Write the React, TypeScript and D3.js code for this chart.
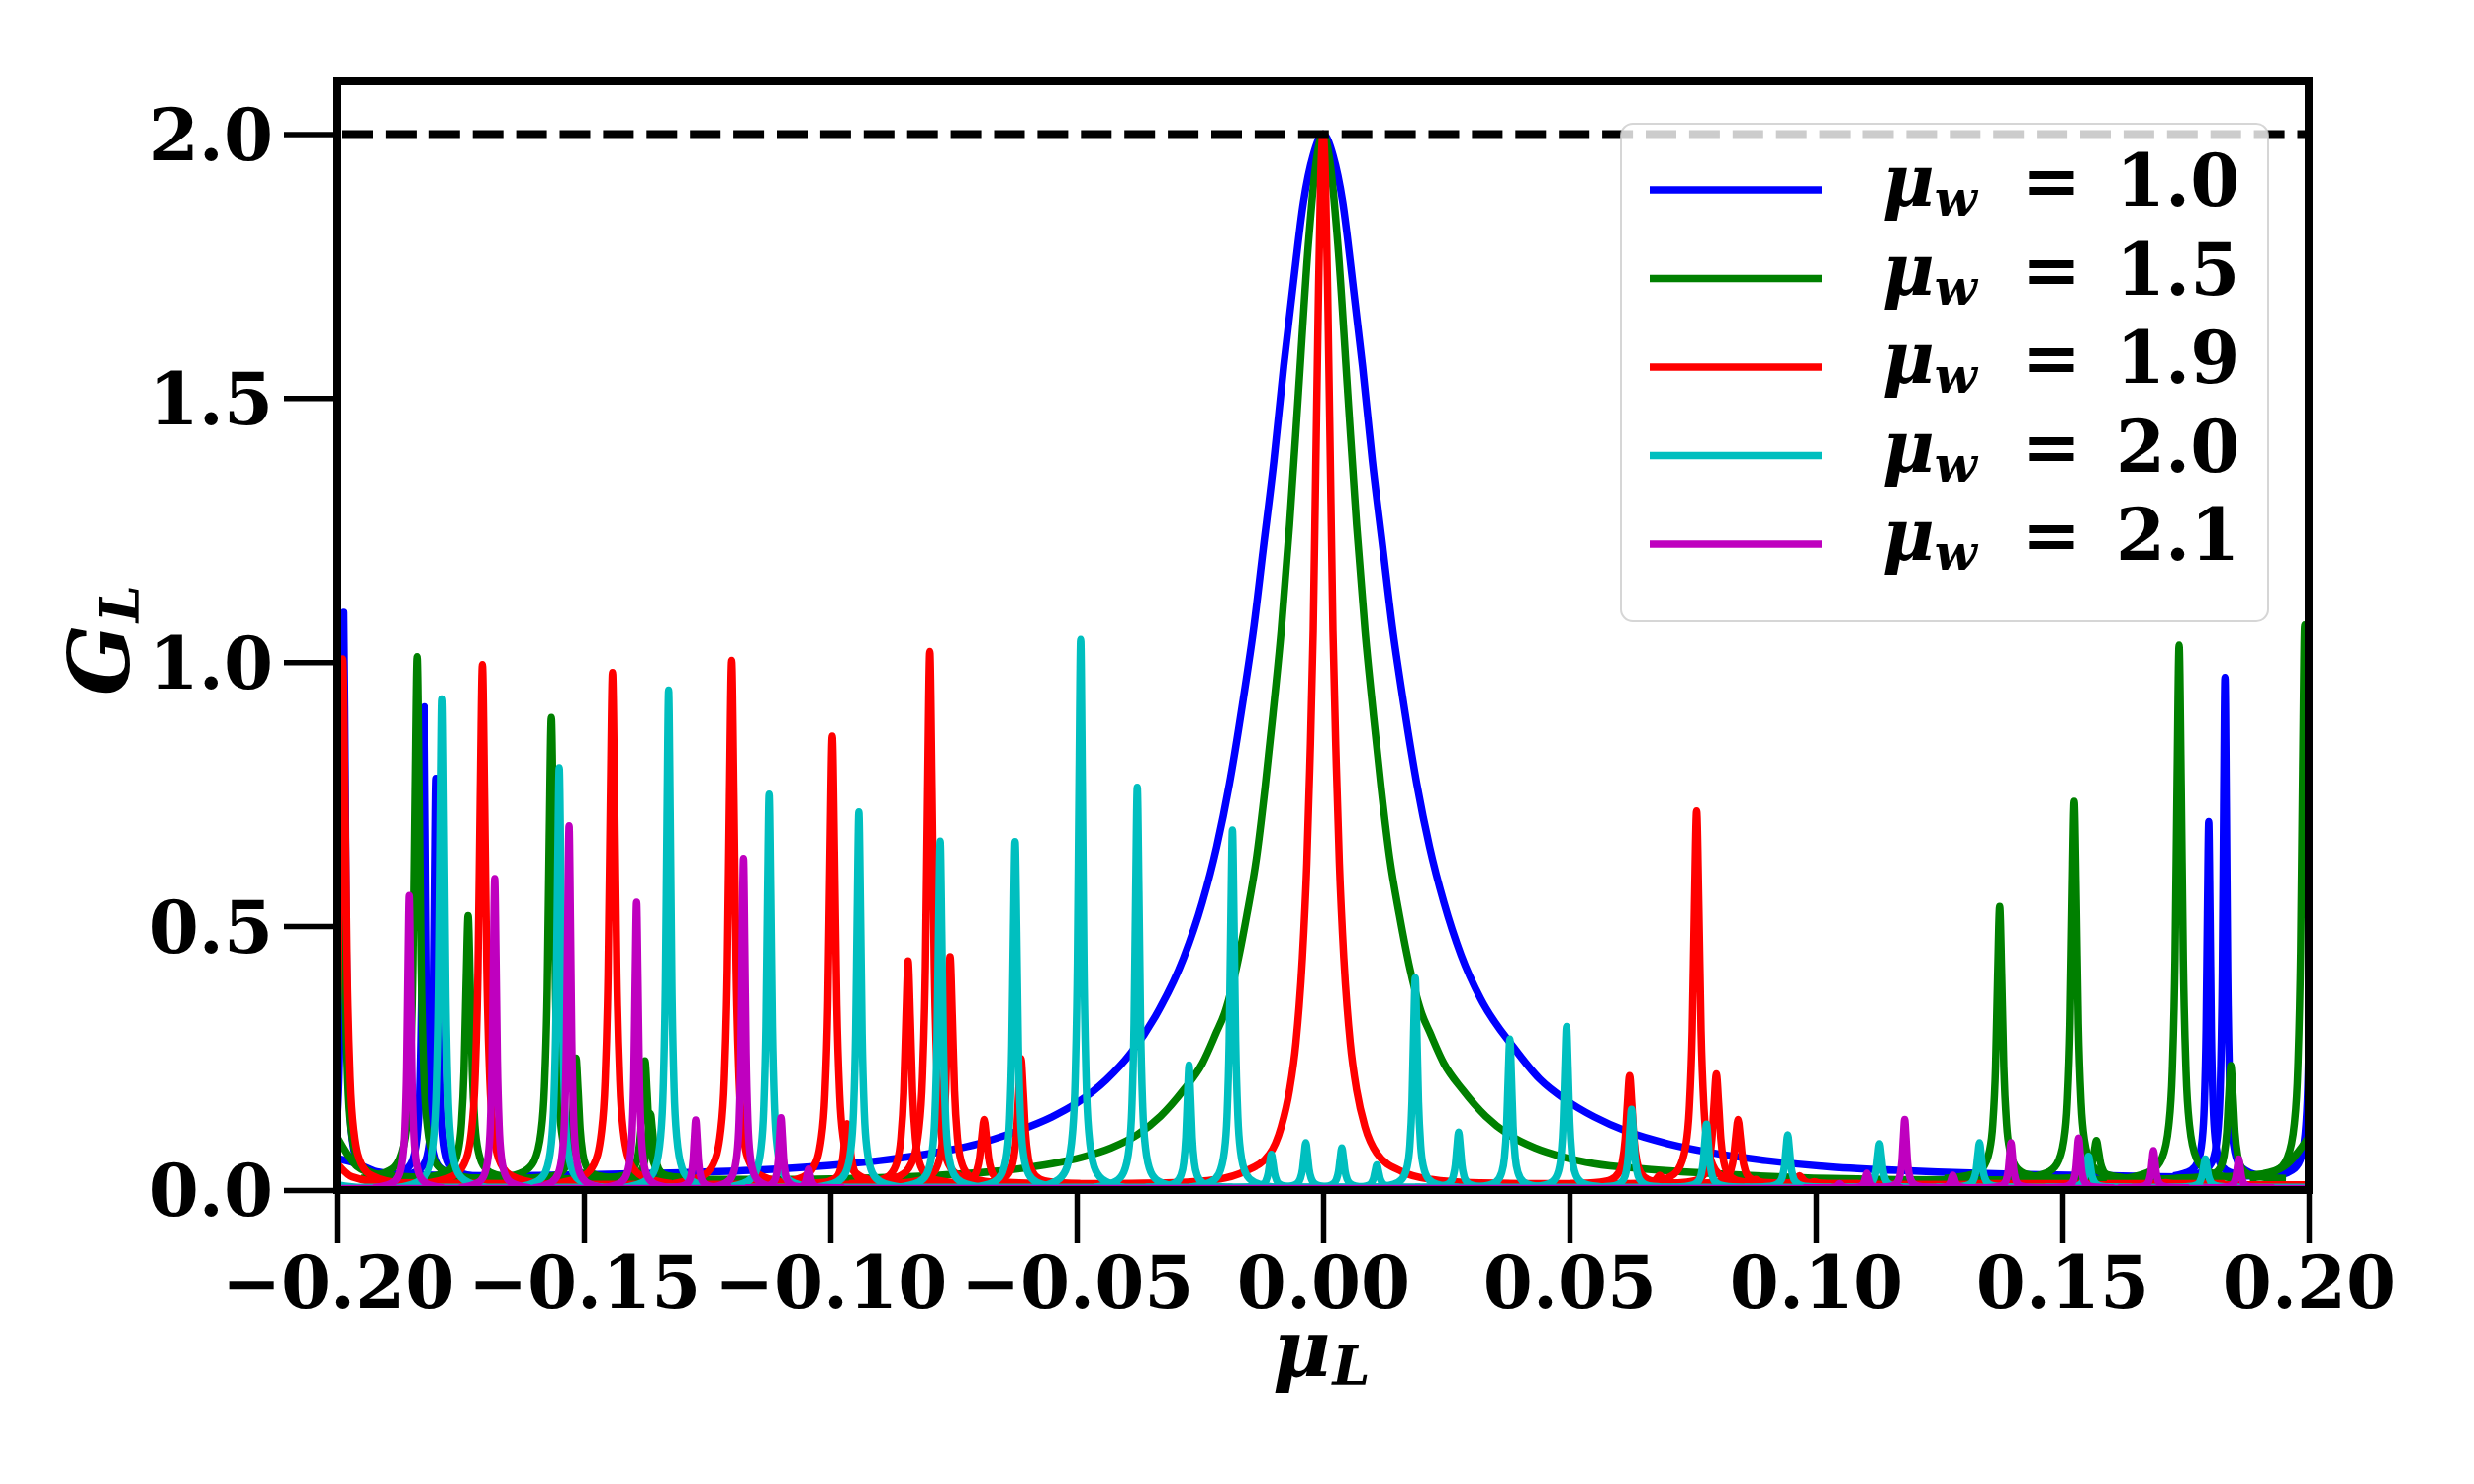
import { useEffect, useRef } from 'react';
import * as d3 from 'd3';

type Pt = [number, number];

// axis ticks
const muTicks = [-0.2, -0.15, -0.1, -0.05, 0, 0.05, 0.1, 0.15, 0.2];
const muTickLabels = ['−0.20', '−0.15', '−0.10', '−0.05', '0.00', '0.05', '0.10', '0.15', '0.20'];
const gTicks = [0, 0.5, 1.0, 1.5, 2.0];
const gTickLabels = ['0.0', '0.5', '1.0', '1.5', '2.0'];

// legend / series
const muWLabels = ['1.0', '1.5', '1.9', '2.0', '2.1'];
const seriesColors = ['#0000ff', '#008000', '#ff0000', '#00bfbf', '#bf00bf'];
const spikeWidths = [0.00045, 0.0007, 0.00075, 0.00055, 0.00045];
const floorLevels = [0.027, 0.022, 0.012, 0.005, 0.004];

// smooth background of each curve: [mu_L, G_L]
const blueBase: Pt[] = [
  [-0.2, 0.06], [-0.196, 0.05], [-0.192, 0.035], [-0.185, 0.029], [-0.17, 0.027], [-0.15, 0.029],
  [-0.13, 0.033], [-0.115, 0.038], [-0.1, 0.047], [-0.09, 0.056], [-0.082, 0.066], [-0.07, 0.088],
  [-0.062, 0.112], [-0.055, 0.139], [-0.05, 0.165], [-0.044, 0.209], [-0.039, 0.26], [-0.034, 0.33],
  [-0.0283, 0.44], [-0.0245, 0.545], [-0.0216, 0.65], [-0.019, 0.77], [-0.0162, 0.93], [-0.014, 1.07],
  [-0.0122, 1.21], [-0.01, 1.38], [-0.008, 1.56], [-0.006, 1.72], [-0.004, 1.87], [-0.002, 1.96],
  [0, 2.0], [0.002, 1.96], [0.004, 1.87], [0.006, 1.72], [0.008, 1.56], [0.01, 1.38], [0.0122, 1.21],
  [0.014, 1.07], [0.0162, 0.93], [0.019, 0.77], [0.0216, 0.65], [0.0245, 0.545], [0.028, 0.445],
  [0.032, 0.362], [0.0387, 0.27], [0.044, 0.21], [0.0494, 0.17], [0.055, 0.139], [0.062, 0.11],
  [0.07, 0.088], [0.0788, 0.071], [0.09, 0.056], [0.1028, 0.044], [0.12, 0.036], [0.14, 0.03],
  [0.16, 0.027], [0.175, 0.025], [0.19, 0.027], [0.196, 0.04], [0.2, 0.1],
];
const greenBase: Pt[] = [
  [-0.2, 0.1], [-0.196, 0.045], [-0.192, 0.03], [-0.185, 0.025], [-0.17, 0.023], [-0.15, 0.021],
  [-0.13, 0.02], [-0.11, 0.02], [-0.1, 0.021], [-0.08, 0.027], [-0.062, 0.04], [-0.055, 0.05],
  [-0.049, 0.062], [-0.043, 0.08], [-0.0377, 0.105], [-0.033, 0.14], [-0.0283, 0.19], [-0.0245, 0.24],
  [-0.0216, 0.3], [-0.02, 0.335], [-0.0176, 0.42], [-0.0155, 0.52], [-0.0135, 0.63], [-0.0118, 0.76],
  [-0.0102, 0.9], [-0.0085, 1.06], [-0.0068, 1.26], [-0.005, 1.51], [-0.003, 1.79], [-0.0015, 1.94],
  [0, 2.0], [0.0015, 1.94], [0.003, 1.79], [0.005, 1.51], [0.0068, 1.26], [0.0085, 1.06], [0.0102, 0.9],
  [0.0118, 0.76], [0.0135, 0.63], [0.0155, 0.52], [0.0176, 0.42], [0.02, 0.335], [0.0216, 0.3],
  [0.0245, 0.24], [0.0283, 0.19], [0.033, 0.14], [0.0377, 0.105], [0.043, 0.08], [0.049, 0.062],
  [0.055, 0.05], [0.0654, 0.04], [0.08, 0.031], [0.103, 0.022], [0.13, 0.019], [0.16, 0.02],
  [0.18, 0.024], [0.19, 0.03], [0.195, 0.045], [0.2, 0.1],
];
const redBase: Pt[] = [
  [-0.2, 0.05], [-0.197, 0.025], [-0.19, 0.014], [-0.15, 0.011], [-0.1, 0.011], [-0.05, 0.012],
  [-0.03, 0.014], [-0.0216, 0.02], [-0.016, 0.035], [-0.0109, 0.068], [-0.0085, 0.12], [-0.0068, 0.19],
  [-0.0055, 0.28], [-0.0042, 0.44], [-0.0033, 0.62], [-0.0027, 0.8], [-0.002, 1.06], [-0.0015, 1.36],
  [-0.001, 1.66], [-0.0005, 1.91], [0, 2.0], [0.0005, 1.91], [0.001, 1.66], [0.0015, 1.36],
  [0.002, 1.06], [0.0027, 0.8], [0.0033, 0.62], [0.0042, 0.44], [0.0055, 0.28], [0.0068, 0.19],
  [0.0085, 0.12], [0.0109, 0.07], [0.016, 0.035], [0.022, 0.02], [0.03, 0.014], [0.05, 0.012],
  [0.1, 0.011], [0.15, 0.01], [0.2, 0.01],
];
const cyanBase: Pt[] = [[-0.2, 0.01], [-0.195, 0.005], [0.2, 0.005]];
const magentaBase: Pt[] = [[-0.2, 0.003], [0.2, 0.003]];

// narrow resonances: [centre mu_L, peak G_L]
const blueSpikes: Pt[] = [
  [-0.1987, 1.094], [-0.1824, 0.915], [-0.1799, 0.78], [0.1797, 0.698], [0.183, 0.971], [0.2008, 1.0],
];
const greenSpikes: Pt[] = [
  [-0.1993, 0.95], [-0.1839, 1.01], [-0.1735, 0.52], [-0.1566, 0.895], [-0.1516, 0.25], [-0.1376, 0.245],
  [-0.1365, 0.145], [0.1373, 0.537], [0.1524, 0.736], [0.1569, 0.094], [0.1737, 1.032], [0.1842, 0.236],
  [0.1992, 1.07],
];
const redSpikes: Pt[] = [
  [-0.1989, 1.006], [-0.1706, 0.995], [-0.1442, 0.98], [-0.12, 1.003], [-0.0996, 0.86], [-0.0966, 0.126],
  [-0.0842, 0.434], [-0.0798, 1.02], [-0.0757, 0.442], [-0.0688, 0.134], [-0.0613, 0.249], [0.0622, 0.217],
  [0.0683, 0.028], [0.0758, 0.718], [0.0798, 0.22], [0.0842, 0.134], [0.0878, 0.02], [0.0967, 0.027],
  [0.0997, 0.016], [0.1444, 0.012], [0.171, 0.014],
];
const cyanSpikes: Pt[] = [
  [-0.1787, 0.93], [-0.155, 0.8], [-0.1328, 0.947], [-0.1124, 0.75], [-0.0942, 0.716], [-0.0777, 0.661],
  [-0.0625, 0.66], [-0.0492, 1.043], [-0.0377, 0.763], [-0.0272, 0.237], [-0.0184, 0.682], [-0.0105, 0.068],
  [-0.0035, 0.09], [0.0038, 0.08], [0.0109, 0.048], [0.0187, 0.402], [0.0275, 0.11], [0.0379, 0.286],
  [0.0494, 0.31], [0.0626, 0.153], [0.0778, 0.125], [0.0943, 0.105], [0.1129, 0.088], [0.1332, 0.09],
  [0.1553, 0.064], [0.179, 0.059],
];
const magentaSpikes: Pt[] = [
  [-0.1855, 0.558], [-0.1681, 0.59], [-0.153, 0.69], [-0.1393, 0.545], [-0.1273, 0.133], [-0.1176, 0.628],
  [-0.11, 0.137], [-0.1044, 0.04], [0.1047, 0.012], [0.1104, 0.032], [0.118, 0.134], [0.1278, 0.028],
  [0.1396, 0.09], [0.1533, 0.099], [0.1685, 0.075], [0.1858, 0.059],
];

// shape of one resonance: offset in widths, fraction of peak above floor
const spikeProfile: Pt[] = [
  [-16, 0], [-8, 0.015], [-5, 0.038], [-3, 0.1], [-2, 0.2], [-1.2, 0.41], [-0.6, 0.74], [0, 1],
  [0.6, 0.74], [1.2, 0.41], [2, 0.2], [3, 0.1], [5, 0.038], [8, 0.015], [16, 0],
];

const bases = [blueBase, greenBase, redBase, cyanBase, magentaBase];
const spikes = [blueSpikes, greenSpikes, redSpikes, cyanSpikes, magentaSpikes];

const FONT = 'DejaVu Serif';
const PL = 341, PR = 2333, PT = 82, PB = 1203;

export default function App() {
  const xAxisRef = useRef<SVGGElement>(null);
  const yAxisRef = useRef<SVGGElement>(null);

  const x = d3.scaleLinear().domain([-0.2, 0.2]).range([PL, PR]);
  const y = d3.scaleLinear().domain([0, 2.1]).range([PB, PT]);

  const line = d3
    .line<Pt>()
    .x((d) => x(d[0]))
    .y((d) => y(d[1]))
    .curve(d3.curveMonotoneX);

  useEffect(() => {
    document.body.style.margin = '0';
    if (!xAxisRef.current || !yAxisRef.current) return;

    const gx = d3.select(xAxisRef.current);
    gx.selectAll('*').remove();
    gx.call(
      d3
        .axisBottom(x)
        .tickValues(muTicks)
        .tickSize(53)
        .tickPadding(15)
        .tickFormat((_, i) => muTickLabels[i])
    );

    const gy = d3.select(yAxisRef.current);
    gy.selectAll('*').remove();
    gy.call(
      d3
        .axisLeft(y)
        .tickValues(gTicks)
        .tickSize(54)
        .tickPadding(11)
        .tickFormat((_, i) => gTickLabels[i])
    );
    gy.selectAll('text').attr('dy', '0.36em');

    [gx, gy].forEach((g) => {
      g.select('.domain').remove();
      g.selectAll('line').attr('stroke', '#000').attr('stroke-width', 5.5);
      g.selectAll('text')
        .attr('fill', '#000')
        .attr('font-family', FONT)
        .attr('font-weight', 'bold')
        .attr('font-size', 72);
    });
  }, []);

  const legendY = (i: number) => 192 + i * 89.5;

  return (
    <svg width={2500} height={1500} style={{ display: 'block', background: '#fff' }}>
      <defs>
        <clipPath id="plot-area">
          <rect x={PL} y={PT} width={PR - PL} height={PB - PT} />
        </clipPath>
      </defs>

      <g clipPath="url(#plot-area)" fill="none" strokeWidth={7.5} strokeLinejoin="round">
        {bases.map((base, si) => (
          <g key={si} stroke={seriesColors[si]}>
            <path d={line(base) ?? ''} />
            {spikes[si].map(([c, h], k) => {
              const w = spikeWidths[si];
              const f = floorLevels[si];
              const pts: Pt[] = spikeProfile.map(([o, r]) => [c + o * w, f + r * (h - f)]);
              return <path key={k} d={line(pts) ?? ''} />;
            })}
          </g>
        ))}
        <line
          x1={PL}
          x2={PR}
          y1={y(2.0)}
          y2={y(2.0)}
          stroke="#000"
          strokeWidth={8}
          strokeDasharray="31 12.9"
          strokeDashoffset={-5}
        />
      </g>

      <g ref={xAxisRef} transform={`translate(0,${PB})`} />
      <g ref={yAxisRef} transform={`translate(${PL},0)`} />

      <rect x={PL} y={PT} width={PR - PL} height={PB - PT} fill="none" stroke="#000" strokeWidth={8} />

      {/* axis labels */}
      <text x={1286} y={1391} fontFamily={FONT} fontWeight="bold" fontStyle="italic" fontSize={80}>
        μ<tspan fontSize={54} dy={9} dx={2}>L</tspan>
      </text>
      <text
        transform={`translate(130,703) rotate(-90)`}
        fontFamily={FONT}
        fontWeight="bold"
        fontStyle="italic"
        fontSize={84}
      >
        G<tspan fontSize={54} dy={10} dx={2}>L</tspan>
      </text>

      {/* legend */}
      <g>
        <rect
          x={1638}
          y={125}
          width={654}
          height={503}
          rx={12}
          fill="#fff"
          fillOpacity={0.8}
          stroke="#cccccc"
          strokeOpacity={0.8}
          strokeWidth={2}
        />
        {muWLabels.map((lab, i) => (
          <g key={lab}>
            <line x1={1667} x2={1841} y1={legendY(i)} y2={legendY(i)} stroke={seriesColors[i]} strokeWidth={7.5} />
            <text
              x={1902}
              y={legendY(i) + 16}
              fontFamily={FONT}
              fontWeight="bold"
              fontStyle="italic"
              fontSize={72}
            >
              μ<tspan fontSize={50} dy={10}>w</tspan>
            </text>
            <text
              x={2073}
              y={legendY(i) + 16}
              textAnchor="middle"
              fontFamily={FONT}
              fontWeight="bold"
              fontSize={72}
            >
              =
            </text>
            <text x={2138} y={legendY(i) + 16} fontFamily={FONT} fontWeight="bold" fontSize={72}>
              {lab}
            </text>
          </g>
        ))}
      </g>
    </svg>
  );
}
